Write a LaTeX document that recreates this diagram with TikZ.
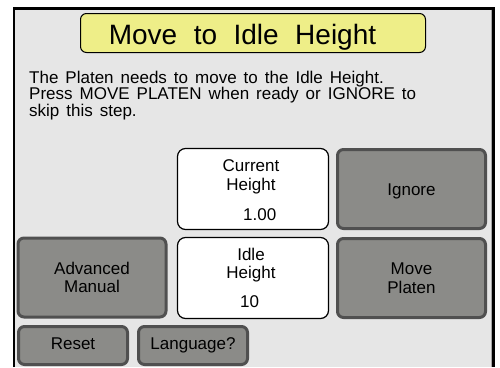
\documentclass[tikz,border=0pt]{standalone}
\usepackage{fontspec}
\setmainfont{Liberation Sans}
\definecolor{panel}{RGB}{230,230,230}
\definecolor{keyfill}{RGB}{139,139,136}
\definecolor{keyedge}{RGB}{80,80,80}
\definecolor{banner}{RGB}{238,238,136}
\newcommand\titlefont{\fontsize{28}{30}\selectfont\spaceskip 16.5pt\relax}
\newcommand\msgfont{\fontsize{17}{15.8}\selectfont\spaceskip 7pt\relax}
\begin{document}
\begin{tikzpicture}[x=1pt, y=-1pt,
    every node/.style={font=\fontsize{17}{18.5}\selectfont, align=center, inner sep=0pt},
    key/.style={draw=keyedge, fill=keyfill, line width=3pt, rounded corners=6pt},
    bigkey/.style={key, minimum width=148pt, minimum height=79pt},
    smallkey/.style={key, minimum width=109pt, minimum height=38pt, text height=11pt, text depth=4pt},
    readout/.style={draw=black, fill=white, line width=1.2pt, rounded corners=8pt,
      minimum width=151pt, minimum height=81pt}]
  \useasboundingbox (0,0) rectangle (500,367);
  % screen frame
  \fill[panel] (13,7) rectangle (494,367);
  \draw[line width=1.5pt] (13.75,367) -- (13.75,7);
  \draw[line width=2.5pt] (13,8.25) -- (495,8.25);
  \draw[line width=3pt] (493.5,7) -- (493.5,367);
  \draw[gray!70, line width=1pt] (491,9.5) -- (491,367);
  % title bar
  \node[draw=black, fill=banner, line width=1pt, rounded corners=6pt,
    minimum width=345pt, minimum height=39pt] (bar) at (253,33) {};
  \node[anchor=base, font=\titlefont] (title) at (242.5,44.3) {Move to Idle Height};
  % message
  \node[anchor=north west, align=left, font=\msgfont] (msg) at (29,70.6)
    {The Platen needs to move to the Idle Height.\\
     Press MOVE PLATEN when ready or IGNORE to\\
     skip this step.};
  % readouts
  \node[readout] (cur) at (253,189) {};
  \node (curlbl) at (251,177) {Current\\Height};
  \node[anchor=base west] (curval) at (243,220) {1.00};
  \node[readout] (idle) at (253,278) {};
  \node (idlelbl) at (251,265) {Idle\\Height};
  \node[anchor=base west] (idleval) at (240,307) {10};
  % keys
  \node[bigkey, text height=12pt, text depth=0pt] (ignore) at (411.5,189) {Ignore};
  \node[bigkey] (moveplaten) at (411.5,278) {Move\\Platen};
  \node[bigkey] (advanced) at (92,277.5) {Advanced\\Manual};
  \node[smallkey] (reset) at (73,345.5) {Reset};
  \node[smallkey] (language) at (193,345.5) {Language?};
\end{tikzpicture}
\end{document}
